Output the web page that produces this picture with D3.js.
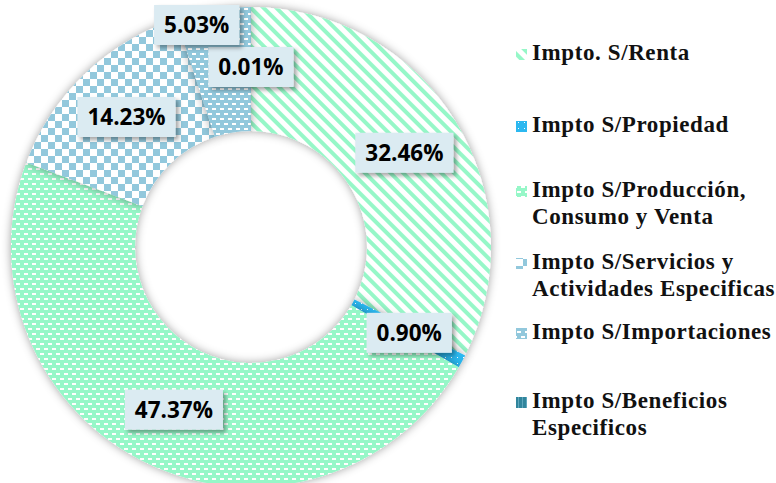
<!DOCTYPE html>
<html><head><meta charset="utf-8">
<script src="https://cdn.jsdelivr.net/npm/d3@7"></script>
<style>
html,body{margin:0;padding:0;background:#fff;}
svg{display:block;}
</style></head>
<body>
<svg id="chart" width="776" height="483"></svg>
<script>
const categories = ["Impto. S/Renta","Impto S/Propiedad","Impto S/Producción, Consumo y Venta","Impto S/Servicios y Actividades Especificas","Impto S/Importaciones","Impto S/Beneficios Especificos"];
const legendLines = [["Impto. S/Renta"],["Impto S/Propiedad"],["Impto S/Producción,","Consumo y Venta"],["Impto S/Servicios y","Actividades Especificas"],["Impto S/Importaciones"],["Impto S/Beneficios","Especificos"]];
const values = [32.46, 0.90, 47.37, 14.23, 5.03, 0.01];
const labels = ["32.46%","0.90%","47.37%","14.23%","5.03%","0.01%"];

const W = 776, H = 483;
const cx = 251, cy = 247, R = 240, r0 = 116;
const svg = d3.select("#chart");
const defs = svg.append("defs");

const GREEN = "#96f7c8", BLUE = "#92c8dc", BRIGHT = "#2cb8f0", TEAL = "#31859c";

// patterns
function pat(id, w, h, bg, draw, transform){
  const p = defs.append("pattern").attr("id", id).attr("patternUnits","userSpaceOnUse")
    .attr("width", w).attr("height", h);
  if (transform) p.attr("patternTransform", transform);
  p.append("rect").attr("width", w).attr("height", h).attr("fill", bg);
  draw(p);
}
pat("p0", 9, 9, "#fff", p => p.append("rect").attr("x",0).attr("y",0).attr("width",9).attr("height",4).attr("fill",GREEN), "rotate(45)");
pat("p1", 6, 6, BRIGHT, p => p.append("rect").attr("x",2).attr("y",2).attr("width",1).attr("height",1).attr("fill","#fff"));
pat("p2", 8, 10, GREEN, p => {
  p.append("rect").attr("x",1).attr("y",1).attr("width",4).attr("height",2).attr("fill","#fff");
  p.append("rect").attr("x",5).attr("y",6).attr("width",4).attr("height",2).attr("fill","#fff");
  p.append("rect").attr("x",-3).attr("y",6).attr("width",4).attr("height",2).attr("fill","#fff");
});
pat("p3", 14, 14, "#fff", p => {
  p.append("rect").attr("x",0).attr("y",0).attr("width",7).attr("height",7).attr("fill",BLUE);
  p.append("rect").attr("x",7).attr("y",7).attr("width",7).attr("height",7).attr("fill",BLUE);
});
pat("p4", 8, 10, BLUE, p => {
  p.append("rect").attr("x",1).attr("y",1).attr("width",4).attr("height",2).attr("fill","#fff");
  p.append("rect").attr("x",5).attr("y",6).attr("width",4).attr("height",2).attr("fill","#fff");
  p.append("rect").attr("x",-3).attr("y",6).attr("width",4).attr("height",2).attr("fill","#fff");
});
pat("p5", 4, 4, TEAL, p => p.append("rect").attr("x",2).attr("y",0).attr("width",1).attr("height",4).attr("fill","#5fa7bd"));

// filters
const f1 = defs.append("filter").attr("id","sliceShadow").attr("x","-20%").attr("y","-20%").attr("width","140%").attr("height","140%");
f1.append("feDropShadow").attr("dx",0).attr("dy",0).attr("stdDeviation",5).attr("flood-color","#000").attr("flood-opacity",0.38);
const f2 = defs.append("filter").attr("id","boxShadow").attr("x","-20%").attr("y","-30%").attr("width","150%").attr("height","170%");
f2.append("feDropShadow").attr("dx",3).attr("dy",3).attr("stdDeviation",2).attr("flood-color","#000").attr("flood-opacity",0.35);

const pie = d3.pie().sort(null).value(d => d)(values);
const arc = d3.arc().innerRadius(r0).outerRadius(R);

const g = svg.append("g").attr("transform", `translate(${cx},${cy})`);
g.selectAll("path.slice").data(pie).enter().append("path")
  .attr("class","slice")
  .attr("d", arc)
  .attr("fill", (d,i) => `url(#p${i})`)
  .attr("filter","url(#sliceShadow)");

// data labels
const labelArc = d3.arc().innerRadius(180).outerRadius(180);
const lg = g.append("g");
const placed = [];
const order = [0,1,2,3,5,4];
order.forEach(i => {
  const d = pie[i];
  let [x, y] = labelArc.centroid(d);
  const grp = lg.append("g");
  const t = grp.append("text").text(labels[i])
    .attr("font-family","'Open Sans', sans-serif").attr("font-weight","bold")
    .attr("font-size", 22.5).attr("fill","#000").attr("text-anchor","middle");
  const tw = t.node().getComputedTextLength();
  const bw = tw + 20, bh = 40;
  placed.forEach(b => {
    if (Math.abs(b.x - x) < (b.w + bw)/2 && Math.abs(b.y - y) < (b.h + bh)/2) {
      y = b.y - (b.h + bh)/2 - 2;
      x = x - bw/3.3;
    }
  });
  placed.push({x, y, w: bw, h: bh});
  grp.insert("rect","text").attr("x", x - bw/2).attr("y", y - bh/2).attr("width", bw).attr("height", bh)
    .attr("fill","#dbebf2").attr("filter","url(#boxShadow)");
  t.attr("x", x).attr("y", y + 8);
});

// legend
const leg = svg.append("g").attr("transform","translate(516,0)");
const rowBase = [60, 132, 197, 269, 339, 408];
legendLines.forEach((lines, i) => {
  const y0 = rowBase[i];
  leg.append("rect").attr("x",0).attr("y", y0 - 11).attr("width",11).attr("height",11)
    .attr("fill", `url(#p${i})`);
  const t = leg.append("text").attr("x", 16).attr("y", y0)
    .attr("font-family","'Liberation Serif', serif").attr("font-weight","bold")
    .attr("font-size", 23).attr("letter-spacing", 0.6).attr("fill","#111");
  lines.forEach((ln, k) => t.append("tspan").attr("x",16).attr("y", y0 + k*27).text(ln));
});
</script>
</body></html>
